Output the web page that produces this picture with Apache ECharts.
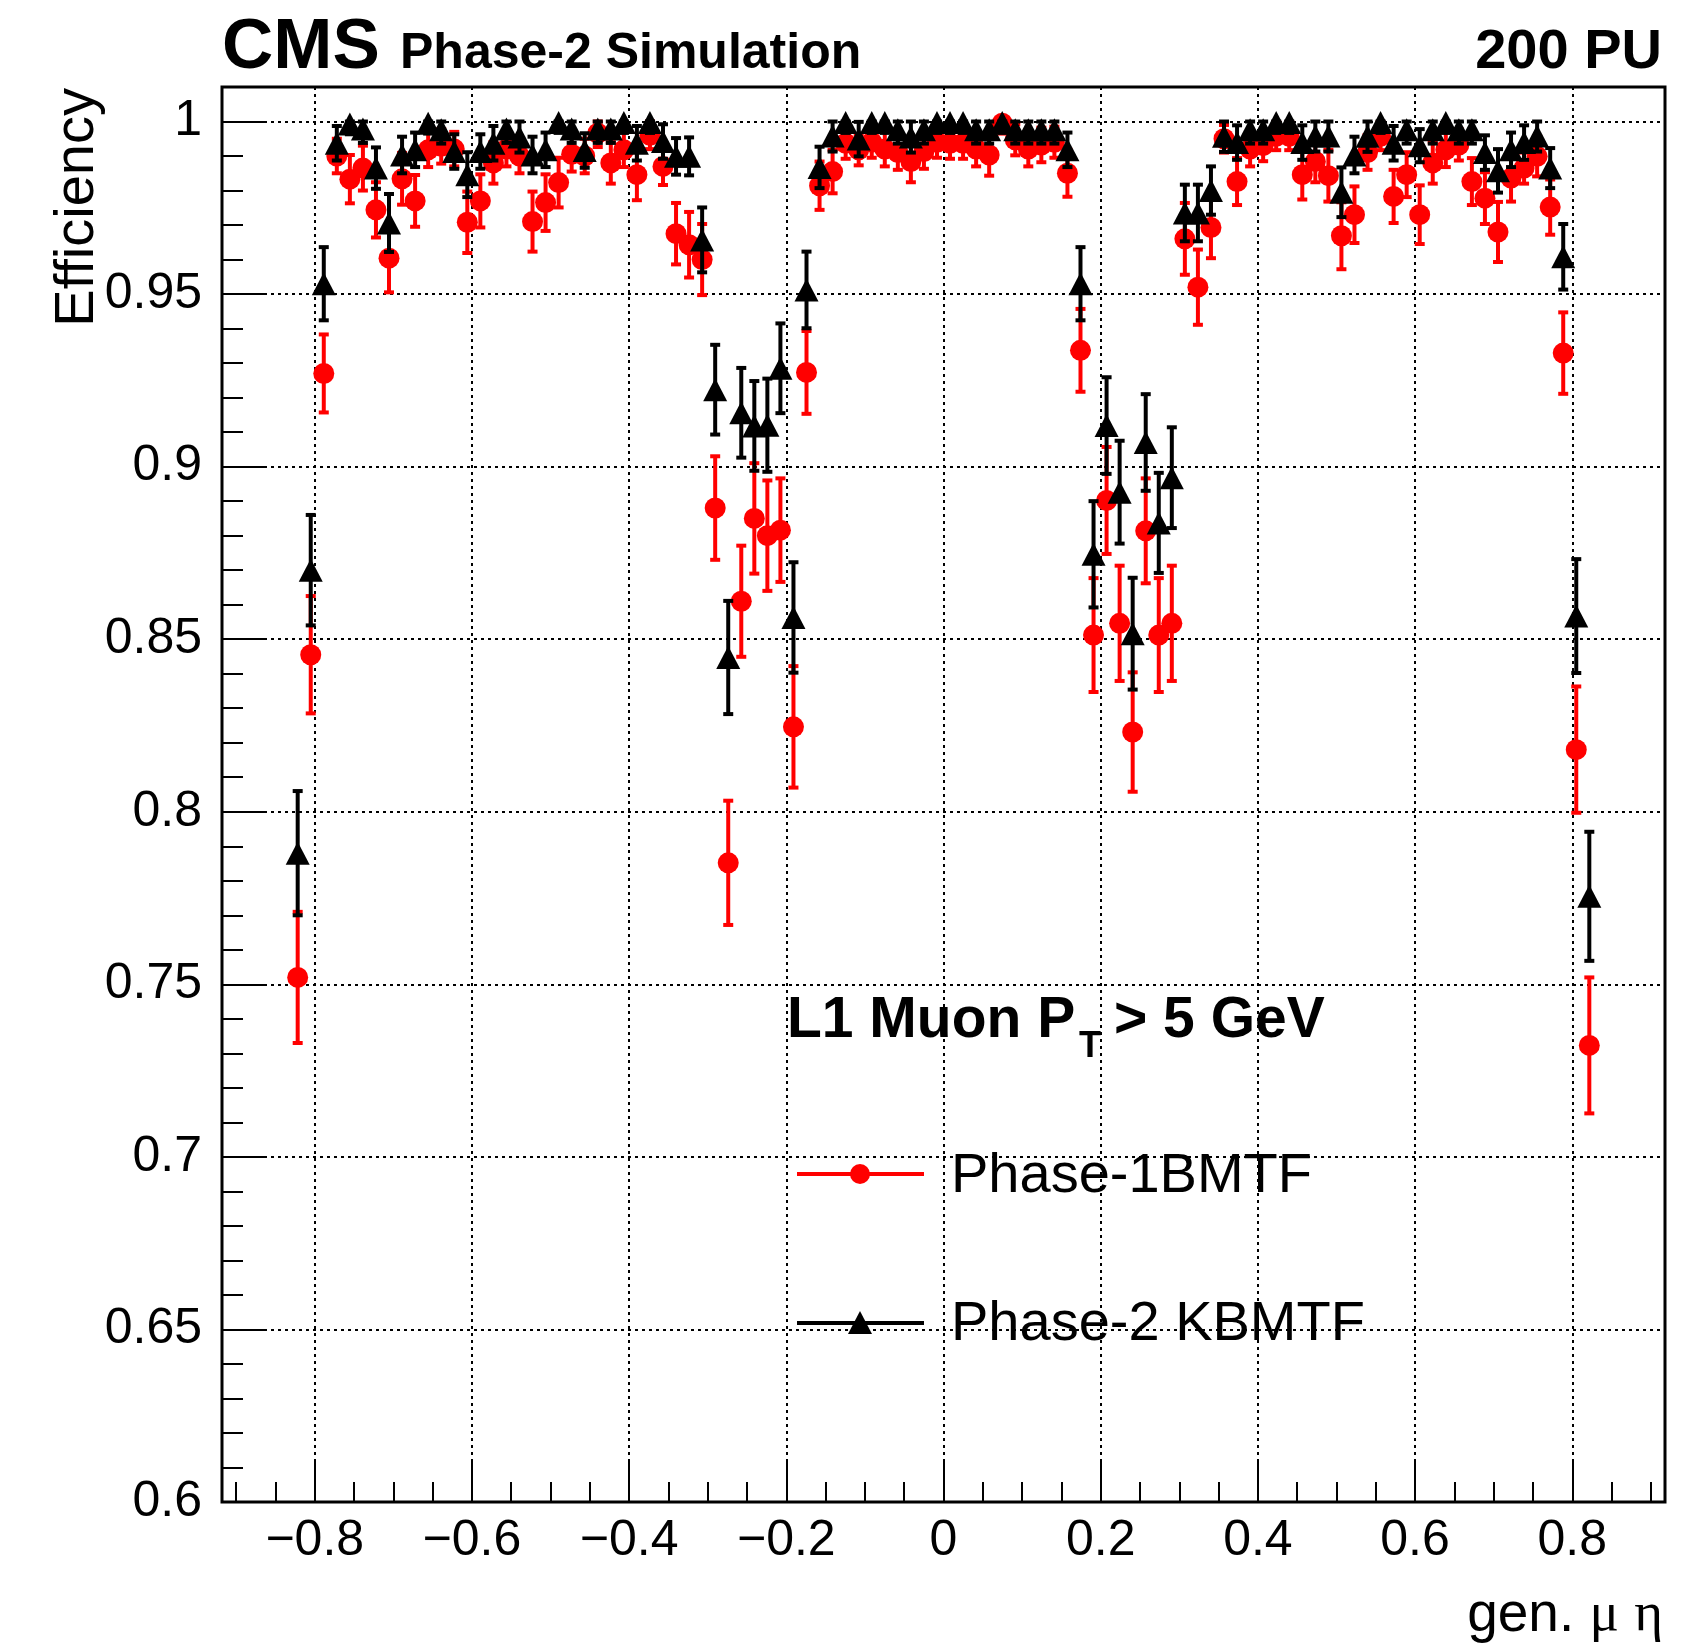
<!DOCTYPE html>
<html>
<head>
<meta charset="utf-8">
<script src="https://cdn.jsdelivr.net/npm/echarts@6/dist/echarts.min.js"></script>
<style>
html, body { margin: 0; padding: 0; background: #fff; }
#chart { width: 1685px; height: 1645px; }
</style>
</head>
<body>
<div id="chart"></div>
<script>
// bin centres of gen. muon eta (100 bins, -0.83 .. 0.83)
var etaBins = [
  -0.8217, -0.8051, -0.7885, -0.7719, -0.7553, -0.7387, -0.7221, -0.7055, -0.6889, -0.6723,
  -0.6557, -0.6391, -0.6225, -0.6059, -0.5893, -0.5727, -0.5561, -0.5395, -0.5229, -0.5063,
  -0.4897, -0.4731, -0.4565, -0.4399, -0.4233, -0.4067, -0.3901, -0.3735, -0.3569, -0.3403,
  -0.3237, -0.3071, -0.2905, -0.2739, -0.2573, -0.2407, -0.2241, -0.2075, -0.1909, -0.1743,
  -0.1577, -0.1411, -0.1245, -0.1079, -0.0913, -0.0747, -0.0581, -0.0415, -0.0249, -0.0083,
  0.0083, 0.0249, 0.0415, 0.0581, 0.0747, 0.0913, 0.1079, 0.1245, 0.1411, 0.1577,
  0.1743, 0.1909, 0.2075, 0.2241, 0.2407, 0.2573, 0.2739, 0.2905, 0.3071, 0.3237,
  0.3403, 0.3569, 0.3735, 0.3901, 0.4067, 0.4233, 0.4399, 0.4565, 0.4731, 0.4897,
  0.5063, 0.5229, 0.5395, 0.5561, 0.5727, 0.5893, 0.6059, 0.6225, 0.6391, 0.6557,
  0.6723, 0.6889, 0.7055, 0.7221, 0.7387, 0.7553, 0.7719, 0.7885, 0.8051, 0.8217
];

// Phase-1 BMTF efficiency and its error
var eff1 = [
  0.752, 0.8455, 0.927, 0.990, 0.9833, 0.9865, 0.9744, 0.9604, 0.9834, 0.977,
  0.9918, 0.9928, 0.992, 0.9708, 0.977, 0.988, 0.992, 0.990, 0.971, 0.9765,
  0.9823, 0.9905, 0.990, 0.9966, 0.988, 0.9918, 0.9846, 0.996, 0.987, 0.9675,
  0.9643, 0.960, 0.888, 0.7852, 0.861, 0.885, 0.880, 0.8816, 0.8246, 0.9273,
  0.9814, 0.9855, 0.9937, 0.9918, 0.994, 0.992, 0.991, 0.9884, 0.9913, 0.994,
  0.9937, 0.9937, 0.992, 0.9903, 0.9995, 0.9947, 0.992, 0.9932, 0.994, 0.985,
  0.9337, 0.8512, 0.8902, 0.8546, 0.8231, 0.8814, 0.8512, 0.8546, 0.966, 0.952,
  0.9693, 0.995, 0.9826, 0.992, 0.993, 0.9957, 0.9957, 0.9846, 0.9884, 0.9843,
  0.9669, 0.973, 0.991, 0.9957, 0.9783, 0.9846, 0.973, 0.988, 0.9918, 0.9932,
  0.9826, 0.9778, 0.968, 0.9836, 0.9865, 0.9899, 0.9752, 0.9329, 0.818, 0.7323
];
var err1 = [
  0.019, 0.017, 0.0113, 0.005, 0.007, 0.0065, 0.008, 0.0099, 0.0075, 0.0075,
  0.005, 0.005, 0.005, 0.0089, 0.0077, 0.006, 0.005, 0.005, 0.0087, 0.0082,
  0.0072, 0.005, 0.005, 0.004, 0.006, 0.005, 0.0074, 0.004, 0.0054, 0.0089,
  0.0095, 0.0103, 0.015, 0.018, 0.0161, 0.016, 0.016, 0.015, 0.0176, 0.012,
  0.007, 0.0063, 0.0045, 0.0045, 0.0045, 0.005, 0.005, 0.006, 0.005, 0.0045,
  0.0045, 0.0045, 0.005, 0.006, 0.003, 0.0045, 0.005, 0.005, 0.0045, 0.0068,
  0.012, 0.0165, 0.0155, 0.0167, 0.0173, 0.0152, 0.0165, 0.0167, 0.0104, 0.0109,
  0.0089, 0.004, 0.0068, 0.005, 0.0045, 0.004, 0.004, 0.0072, 0.006, 0.0075,
  0.0097, 0.0082, 0.005, 0.004, 0.0077, 0.0065, 0.0085, 0.006, 0.005, 0.0045,
  0.0068, 0.0075, 0.0087, 0.0068, 0.0045, 0.0058, 0.008, 0.0118, 0.0183, 0.0197
];

// Phase-2 KBMTF efficiency and its error
var eff2 = [
  0.788, 0.870, 0.953, 0.9937, 0.9993, 0.9978, 0.9865, 0.9706, 0.9903, 0.9918,
  0.9995, 0.9976, 0.9913, 0.9846, 0.9913, 0.9937, 0.9978, 0.9955, 0.9903, 0.9918,
  0.9997, 0.9978, 0.9916, 0.9978, 0.9978, 0.9997, 0.9937, 0.9997, 0.9942, 0.9899,
  0.9899, 0.9657, 0.9223, 0.8447, 0.9156, 0.9118, 0.912, 0.9285, 0.8563, 0.9512,
  0.9867, 0.9958, 0.9997, 0.9949, 0.9997, 0.9997, 0.9976, 0.9955, 0.9976, 0.9997,
  0.9997, 0.9997, 0.9976, 0.9976, 0.9997, 0.9976, 0.9976, 0.9976, 0.9976, 0.9918,
  0.953, 0.8746, 0.9119, 0.8926, 0.8516, 0.907, 0.8837, 0.8968, 0.9735, 0.9735,
  0.980, 0.9957, 0.9939, 0.9976, 0.9976, 0.9997, 0.9997, 0.9939, 0.9958, 0.9958,
  0.9795, 0.9903, 0.9957, 0.9997, 0.9937, 0.9976, 0.993, 0.9976, 0.9997, 0.9976,
  0.9976, 0.991, 0.9857, 0.9918, 0.9939, 0.9958, 0.9865, 0.9608, 0.8567, 0.7755
];
var err2 = [
  0.018, 0.016, 0.0106, 0.005, 0.003, 0.004, 0.006, 0.0084, 0.0053, 0.005,
  0.003, 0.004, 0.005, 0.0065, 0.005, 0.005, 0.004, 0.0045, 0.0053, 0.005,
  0.003, 0.004, 0.005, 0.004, 0.004, 0.003, 0.005, 0.003, 0.005, 0.0053,
  0.0055, 0.0094, 0.013, 0.0164, 0.013, 0.013, 0.0135, 0.013, 0.016, 0.0111,
  0.006, 0.0045, 0.003, 0.005, 0.003, 0.003, 0.004, 0.0045, 0.004, 0.003,
  0.003, 0.003, 0.004, 0.004, 0.003, 0.004, 0.004, 0.004, 0.004, 0.005,
  0.0106, 0.0154, 0.014, 0.0149, 0.0162, 0.014, 0.0145, 0.0146, 0.0082, 0.0082,
  0.007, 0.0045, 0.005, 0.004, 0.004, 0.003, 0.003, 0.005, 0.0045, 0.0045,
  0.0072, 0.0053, 0.0045, 0.003, 0.005, 0.004, 0.0048, 0.004, 0.003, 0.004,
  0.004, 0.005, 0.0063, 0.005, 0.005, 0.0045, 0.0058, 0.0095, 0.0165, 0.0187
];

var RED = '#ff0000';
var FONT = '"Liberation Sans", Arial, Helvetica, sans-serif';
var SERIF = '"Liberation Serif", serif';

function points(vals) {
  return etaBins.map(function (x, i) { return [x, vals[i]]; });
}
function withErr(vals, errs) {
  return etaBins.map(function (x, i) { return [x, vals[i], errs[i]]; });
}

// vertical error bar with small end caps, like ROOT draws them
function errBar(color) {
  return function (params, api) {
    var x = api.value(0), v = api.value(1), e = api.value(2);
    var hi = api.coord([x, Math.min(v + e, 1)]);
    var lo = api.coord([x, v - e]);
    var st = { stroke: color, lineWidth: 4 };
    return {
      type: 'group',
      children: [
        { type: 'line', shape: { x1: hi[0], y1: hi[1], x2: lo[0], y2: lo[1] }, style: st },
        { type: 'line', shape: { x1: hi[0] - 5, y1: hi[1], x2: hi[0] + 5, y2: hi[1] }, style: st },
        { type: 'line', shape: { x1: lo[0] - 5, y1: lo[1], x2: lo[0] + 5, y2: lo[1] }, style: st }
      ]
    };
  };
}

function xLabel(v) {
  if (Math.abs(v) < 1e-9) return '0';
  return (v < 0 ? '\u2212' : '') + Math.abs(v).toFixed(1);
}
function yLabel(v) {
  return String(parseFloat(v.toFixed(2)));
}

var chart = echarts.init(document.getElementById('chart'), null, { renderer: 'canvas' });

var option = {
  backgroundColor: '#fff',
  animation: false,
  grid: {
    left: 222, right: 20, top: 87, bottom: 143,
    show: true, borderColor: '#000', borderWidth: 3, backgroundColor: 'transparent'
  },
  xAxis: {
    type: 'value',
    min: -0.918, max: 0.918,
    splitNumber: 9, minInterval: 0.2, maxInterval: 0.2,
    axisLine: { show: false, onZero: false },
    axisTick: { show: true, inside: true, length: 43, lineStyle: { color: '#000', width: 2 } },
    minorTick: { show: true, splitNumber: 4, length: 20, lineStyle: { color: '#000', width: 2 } },
    axisLabel: {
      show: true, margin: 14, color: '#000', fontSize: 50, fontFamily: FONT,
      showMinLabel: false, showMaxLabel: false, formatter: xLabel
    },
    splitLine: { show: true, lineStyle: { color: '#000', width: 2, type: [3, 4] } }
  },
  yAxis: {
    type: 'value',
    min: 0.6, max: 1.01,
    splitNumber: 8, minInterval: 0.05, maxInterval: 0.05,
    axisLine: { show: false, onZero: false },
    axisTick: { show: true, inside: true, length: 42, lineStyle: { color: '#000', width: 2 } },
    minorTick: { show: true, splitNumber: 5, length: 21, lineStyle: { color: '#000', width: 2 } },
    axisLabel: {
      show: true, margin: 20, color: '#000', fontSize: 50, fontFamily: FONT,
      showMaxLabel: false, formatter: yLabel
    },
    splitLine: { show: true, lineStyle: { color: '#000', width: 2, type: [3, 4] } }
  },
  series: [
    {
      name: 'Phase-1BMTF err', type: 'custom', renderItem: errBar(RED),
      data: withErr(eff1, err1), z: 2
    },
    {
      name: 'Phase-1BMTF', type: 'scatter', symbol: 'circle', symbolSize: 21,
      itemStyle: { color: RED, opacity: 1 }, data: points(eff1), z: 3
    },
    {
      name: 'Phase-2 KBMTF err', type: 'custom', renderItem: errBar('#000'),
      data: withErr(eff2, err2), z: 4
    },
    {
      name: 'Phase-2 KBMTF', type: 'scatter', symbol: 'triangle', symbolSize: [24, 23],
      itemStyle: { color: '#000', opacity: 1 }, data: points(eff2), z: 5
    }
  ],
  graphic: {
    elements: [
      { type: 'text', x: 222, y: 48, style: { text: 'CMS', font: 'bold 71px ' + FONT, fill: '#000', align: 'left', verticalAlign: 'middle', textAlign: 'left', textVerticalAlign: 'middle' } },
      { type: 'text', x: 400, y: 54, style: { text: 'Phase-2 Simulation', font: 'bold 50px ' + FONT, fill: '#000', align: 'left', verticalAlign: 'middle', textAlign: 'left', textVerticalAlign: 'middle' } },
      { type: 'text', x: 1662, y: 53, style: { text: '200 PU', font: 'bold 56px ' + FONT, fill: '#000', align: 'right', verticalAlign: 'middle', textAlign: 'right', textVerticalAlign: 'middle' } },
      { type: 'text', x: 78, y: 88, rotation: Math.PI / 2, style: { text: 'Efficiency', font: '56px ' + FONT, fill: '#000', align: 'right', verticalAlign: 'middle', textAlign: 'right', textVerticalAlign: 'middle' } },
      { type: 'text', x: 1663, y: 1616, style: {
          text: 'gen. {m|\u03bc} {m|\u03b7}', font: '55px ' + FONT, fill: '#000',
          align: 'right', verticalAlign: 'middle', textAlign: 'right', textVerticalAlign: 'middle',
          rich: {
            m: { fontFamily: SERIF, fontSize: 55 }
          }
        } },

      { type: 'text', x: 787, y: 1021, style: { text: 'L1 Muon P', font: 'bold 57px ' + FONT, fill: '#000', align: 'left', verticalAlign: 'middle', textAlign: 'left', textVerticalAlign: 'middle' } },
      { type: 'text', x: 1079, y: 1047, style: { text: 'T', font: 'bold 36px ' + FONT, fill: '#000', align: 'left', verticalAlign: 'middle', textAlign: 'left', textVerticalAlign: 'middle' } },
      { type: 'text', x: 1114, y: 1021, style: { text: '> 5 GeV', font: 'bold 57px ' + FONT, fill: '#000', align: 'left', verticalAlign: 'middle', textAlign: 'left', textVerticalAlign: 'middle' } },

      { type: 'line', shape: { x1: 797, y1: 1174, x2: 924, y2: 1174 }, style: { stroke: RED, lineWidth: 4 } },
      { type: 'circle', shape: { cx: 860, cy: 1174, r: 10 }, style: { fill: RED } },
      { type: 'text', x: 951, y: 1177, style: { text: 'Phase-1BMTF', font: '56px ' + FONT, fill: '#000', align: 'left', verticalAlign: 'middle', textAlign: 'left', textVerticalAlign: 'middle' } },

      { type: 'line', shape: { x1: 797, y1: 1323, x2: 924, y2: 1323 }, style: { stroke: '#000', lineWidth: 4 } },
      { type: 'polygon', shape: { points: [[848, 1334], [872, 1334], [860, 1311]] }, style: { fill: '#000' } },
      { type: 'text', x: 951, y: 1325, style: { text: 'Phase-2 KBMTF', font: '56px ' + FONT, fill: '#000', align: 'left', verticalAlign: 'middle', textAlign: 'left', textVerticalAlign: 'middle' } }
    ]
  }
};

chart.setOption(option);
</script>
</body>
</html>
